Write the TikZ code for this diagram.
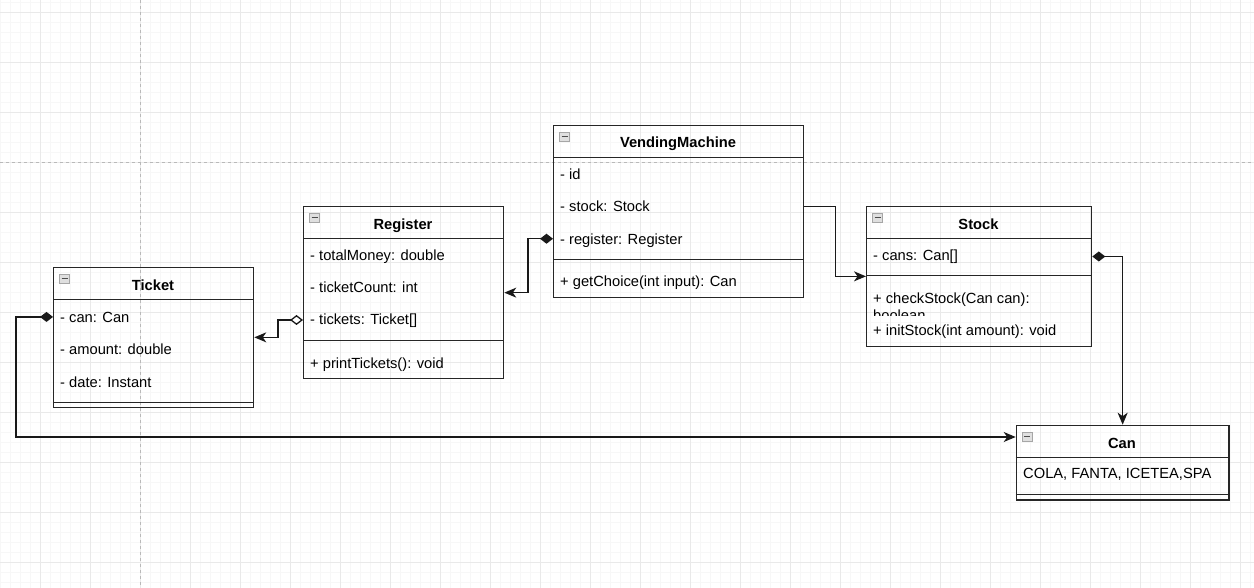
\documentclass[tikz,border=0pt]{standalone}
\usepackage{fontspec}
\setmainfont{Liberation Sans}
\usetikzlibrary{arrows.meta}

\begin{document}
\begin{tikzpicture}[x=1pt,y=-1pt,
 classbox/.style={draw=black!85,line width=1.3pt,inner sep=0pt,anchor=north west},
 sepline/.style={draw=black!85,line width=1.3pt},
 title/.style={anchor=base,inner sep=0pt,font=\fontsize{14.7}{17.6}\selectfont\bfseries},
 member/.style={anchor=base west,inner sep=0pt,font=\fontsize{14.7}{17.6}\selectfont},
 fold/.style={draw=gray!70,fill=gray!25,minimum width=10pt,minimum height=9pt,inner sep=0pt,
  path picture={\draw[gray!60!black,line width=1pt] ([xshift=-3pt]path picture bounding box.center) -- ([xshift=3pt]path picture bounding box.center);}},
 conn/.style={draw=black!90,line width=1.3pt},
 tip/.style={-{Stealth[length=12pt,width=10pt,inset=3.5pt]}}]
 \useasboundingbox (0,0) rectangle (1254,588);
 % background grid
 \foreach \x in {0,10,...,1250} \draw[gray!6,line width=0.6pt] (\x,0) -- (\x,588);
 \foreach \y in {2,12,...,582} \draw[gray!6,line width=0.6pt] (0,\y) -- (1254,\y);
 \foreach \x in {40,90,...,1240} \draw[gray!17,line width=0.8pt] (\x,0) -- (\x,588);
 \foreach \y in {12,62,...,562} \draw[gray!17,line width=0.8pt] (0,\y) -- (1254,\y);
 \draw[gray!55,dash pattern=on 3pt off 3pt,line width=0.8pt] (140.5,0) -- (140.5,588);
 \draw[gray!55,dash pattern=on 3pt off 3pt,line width=0.8pt] (0,162) -- (1254,162);

 % VendingMachine
 \node[classbox,minimum width=250pt,minimum height=172pt] (vm) at (553,125) {};
 \node[fold] (vmfold) at ([xshift=11.5pt,yshift=-12pt]vm.north west) {};
 \node[title] (vmtitle) at (678,147.5) {VendingMachine};
 \draw[sepline] ([yshift=-32.5pt]vm.north west) -- ([yshift=-32.5pt]vm.north east);
 \node[member] (vmid) at (560,179.5) {- id};
 \node[member] (vmstock) at (560,212) {- stock: Stock};
 \node[member] (vmreg) at (560,244.3) {- register: Register};
 \draw[sepline] ([yshift=-134.5pt]vm.north west) -- ([yshift=-134.5pt]vm.north east);
 \node[member] (vmget) at (560,287) {+ getChoice(int input): Can};

 % Register
 \node[classbox,minimum width=200pt,minimum height=172pt] (reg) at (303,206) {};
 \node[fold] (regfold) at ([xshift=11.5pt,yshift=-12pt]reg.north west) {};
 \node[title] (regtitle) at (403,229.3) {Register};
 \draw[sepline] ([yshift=-32.5pt]reg.north west) -- ([yshift=-32.5pt]reg.north east);
 \node[member] (regmoney) at (310,260.3) {- totalMoney: double};
 \node[member] (regcount) at (310,292.3) {- ticketCount: int};
 \node[member] (regtickets) at (310,324.3) {- tickets: Ticket[]};
 \draw[sepline] ([yshift=-134.5pt]reg.north west) -- ([yshift=-134.5pt]reg.north east);
 \node[member] (regprint) at (310,368) {+ printTickets(): void};

 % Ticket
 \node[classbox,minimum width=200pt,minimum height=140pt] (ticket) at (53,266.7) {};
 \node[fold] (ticketfold) at ([xshift=11.5pt,yshift=-12pt]ticket.north west) {};
 \node[title] (tickettitle) at (153,290.3) {Ticket};
 \draw[sepline] ([yshift=-33pt]ticket.north west) -- ([yshift=-33pt]ticket.north east);
 \node[member] (ticketcan) at (60,322.5) {- can: Can};
 \node[member] (ticketamount) at (60,354.3) {- amount: double};
 \node[member] (ticketdate) at (60,387) {- date: Instant};
 \draw[sepline] ([yshift=-135.6pt]ticket.north west) -- ([yshift=-135.6pt]ticket.north east);

 % Stock
 \node[classbox,minimum width=225pt,minimum height=140pt] (stock) at (866,205.7) {};
 \node[fold] (stockfold) at ([xshift=11.5pt,yshift=-12pt]stock.north west) {};
 \node[title] (stocktitle) at (978.5,229.3) {Stock};
 \draw[sepline] ([yshift=-32.5pt]stock.north west) -- ([yshift=-32.5pt]stock.north east);
 \node[member] (stockcans) at (873,260.8) {- cans: Can[]};
 \draw[sepline] ([yshift=-70pt]stock.north west) -- ([yshift=-70pt]stock.north east);
 \node[member] (stockcheck) at (873,303.6) {+ checkStock(Can can):};
 \begin{scope}
  \clip (866,306) rectangle (1091,315.5);
  \node[member] (stockbool) at (873,321) {boolean};
 \end{scope}
 \node[member] (stockinit) at (873,335.3) {+ initStock(int amount): void};

 % Can
 \node[classbox,minimum width=212.6pt,minimum height=74.6pt] (can) at (1015.7,424.7) {};
 \node[fold] (canfold) at ([xshift=11.5pt,yshift=-12pt]can.north west) {};
 \node[title] (cantitle) at (1122,448.6) {Can};
 \draw[sepline] ([yshift=-32.6pt]can.north west) -- ([yshift=-32.6pt]can.north east);
 \node[member] (canvals) at (1023,478.6) {COLA, FANTA, ICETEA,SPA};
 \draw[sepline] ([yshift=-69.6pt]can.north west) -- ([yshift=-69.6pt]can.north east);
 \coordinate (canin) at ([yshift=-12.3pt]can.north west);

 % connectors
 \draw[conn,{Diamond[length=13pt,width=10pt]}-{Stealth[length=12pt,width=10pt,inset=3.5pt]}]
  (vm.west |- vmid.west) ++(0,64.5) -- ++(-25,0) |- (reg.east);
 \draw[conn,tip] (vm.east |- vmstock.west) ++(0,-0.5) -- ++(31,0) |- (stock.west);
 \draw[conn,{Diamond[open,fill=white,length=13pt,width=10pt]}-{Stealth[length=12pt,width=10pt,inset=3.5pt]}]
  (reg.west |- regtickets.west) ++(0,-0.5) -- ++(-25,0) |- (ticket.east);
 \draw[conn,{Diamond[length=13pt,width=10pt]}-{Stealth[length=12pt,width=10pt,inset=3.5pt]}]
  (stock.east |- stockcans.west) ++(0,-0.5) -| (can.north);
 \draw[conn,{Diamond[length=13pt,width=10pt]}-{Stealth[length=12pt,width=10pt,inset=3.5pt]}]
  (ticket.west |- ticketcan.west) ++(0,-0.5) -- ++(-37,0) |- (canin);
\end{tikzpicture}
\end{document}
